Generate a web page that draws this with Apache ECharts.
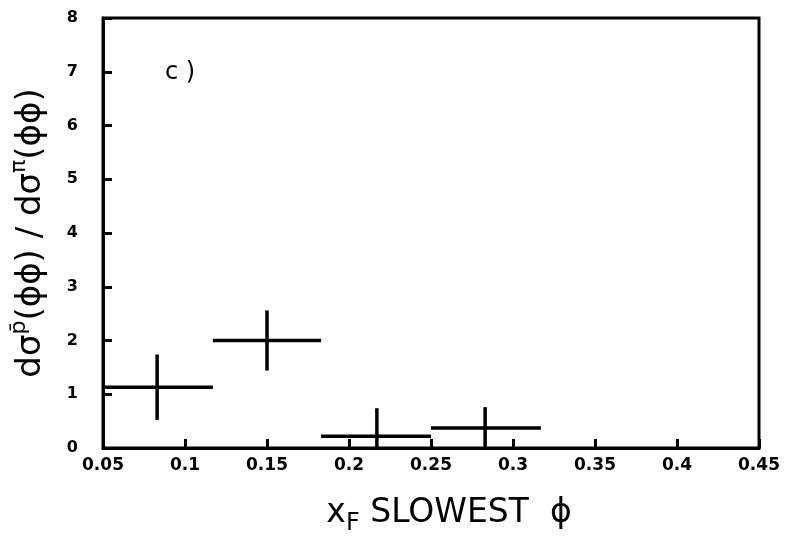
<!DOCTYPE html>
<html>
<head>
<meta charset="utf-8">
<script src="https://cdn.jsdelivr.net/npm/echarts@6/dist/echarts.min.js"></script>
<style>
  html, body { margin: 0; padding: 0; background: #fff; }
  #chart { width: 789px; height: 541px; }
</style>
</head>
<body>
<div id="chart"></div>
<script>
// bins (x_F of slowest phi)
const xCenter = [0.083, 0.150, 0.217, 0.283];
const xLow = [0.050, 0.117, 0.183, 0.250];
const xHigh = [0.117, 0.183, 0.250, 0.317];
// ratio and its error bar ends
const yValue = [1.13, 2.00, 0.22, 0.37];
const yLow = [0.52, 1.44, 0.00, 0.00];
const yHigh = [1.74, 2.56, 0.74, 0.76];

const xTicks = [0.05, 0.1, 0.15, 0.2, 0.25, 0.3, 0.35, 0.4, 0.45];
const yTicks = [0, 1, 2, 3, 4, 5, 6, 7, 8];

const points = xCenter.map((x, i) => [x, yValue[i], xLow[i], xHigh[i], yLow[i], yHigh[i]]);

const chart = echarts.init(document.getElementById('chart'));

// draws one cross (x bin + y error) per point
function renderCross(params, api) {
  const c = api.coord([api.value(0), api.value(1)]);
  const l = api.coord([api.value(2), api.value(1)]);
  const r = api.coord([api.value(3), api.value(1)]);
  const lo = api.coord([api.value(0), api.value(4)]);
  const hi = api.coord([api.value(0), api.value(5)]);
  const style = { stroke: '#000', lineWidth: 3.5, fill: null };
  return {
    type: 'group',
    children: [
      { type: 'line', shape: { x1: l[0], y1: c[1], x2: r[0], y2: c[1] }, style: style },
      { type: 'line', shape: { x1: c[0], y1: lo[1], x2: c[0], y2: hi[1] }, style: style }
    ]
  };
}

const option = {
  backgroundColor: '#fff',
  animation: false,
  grid: {
    left: 103, right: 30, top: 18, bottom: 91,
    show: true, borderColor: '#000', borderWidth: 3
  },
  xAxis: {
    type: 'value',
    min: xTicks[0],
    max: xTicks[xTicks.length - 1],
    interval: 0.05,
    splitLine: { show: false },
    axisLine: { lineStyle: { color: '#000', width: 3 } },
    axisTick: { inside: true, length: 9, lineStyle: { color: '#000', width: 3 } },
    axisLabel: {
      margin: 9, color: '#000', fontFamily: 'DejaVu Sans', fontWeight: 'bold', fontSize: 17,
      formatter: v => String(+v.toFixed(2))
    },
    name: '{m|x}{sub|F}{m| SLOWEST  ϕ}',
    nameLocation: 'middle',
    nameGap: 42,
    nameTextStyle: {
      padding: [0, 0, 0, 36],
      rich: {
        m: { fontFamily: 'DejaVu Sans', fontSize: 33, color: '#000', lineHeight: 46 },
        sub: { fontFamily: 'DejaVu Sans', fontSize: 24, color: '#000', verticalAlign: 'bottom', lineHeight: 46 }
      }
    }
  },
  yAxis: {
    type: 'value',
    min: yTicks[0],
    max: yTicks[yTicks.length - 1],
    interval: 1,
    splitLine: { show: false },
    axisLine: { lineStyle: { color: '#000', width: 3 } },
    axisTick: { inside: true, length: 9, lineStyle: { color: '#000', width: 3 } },
    axisLabel: { margin: 25, color: '#000', fontFamily: 'DejaVu Sans', fontWeight: 'bold', fontSize: 16 },
    name: '{m|dσ}{sup|p̄}{m|(ϕϕ) / dσ}{sup|π}{m|(ϕϕ)}',
    nameLocation: 'middle',
    nameRotate: 90,
    nameGap: 49,
    nameTextStyle: {
      rich: {
        m: { fontFamily: 'DejaVu Sans', fontSize: 34, color: '#000', lineHeight: 46 },
        sup: { fontFamily: 'DejaVu Sans', fontSize: 22, color: '#000', verticalAlign: 'top', lineHeight: 46 }
      }
    }
  },
  graphic: [
    {
      type: 'text', left: 165, top: 61,
      style: { text: 'c )', font: '24px "DejaVu Sans"', fill: '#000' }
    }
  ],
  series: [
    {
      type: 'custom',
      renderItem: renderCross,
      clip: true,
      encode: { x: [0, 2, 3], y: [1, 4, 5] },
      data: points
    }
  ]
};

chart.setOption(option);
</script>
</body>
</html>
